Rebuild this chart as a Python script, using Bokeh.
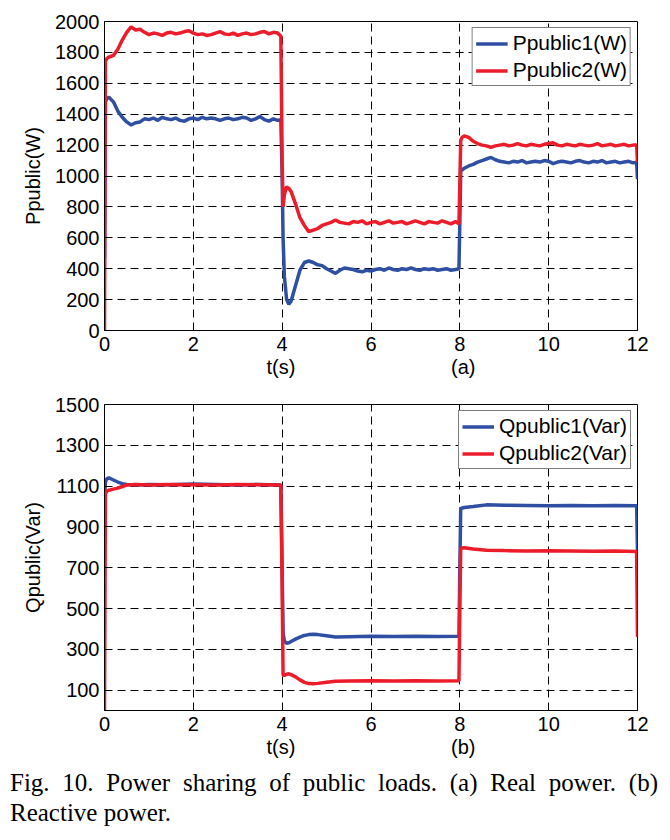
from bokeh.plotting import figure
from bokeh.models import Range1d, FixedTicker, Div
from bokeh.layouts import column
from bokeh.embed import file_html
from bokeh.resources import INLINE

# ---------------- data: (a) real power ----------------
t_a = [0.00, 0.02, 0.05, 0.1, 0.2, 0.3, 0.4, 0.5, 0.6, 0.7, 0.8, 0.9,
       1.0, 1.1, 1.2, 1.3, 1.4, 1.5, 1.6, 1.7, 1.8, 1.9,
       2.0, 2.1, 2.2, 2.3, 2.4, 2.5, 2.6, 2.7, 2.8, 2.9,
       3.0, 3.1, 3.2, 3.3, 3.4, 3.5, 3.6, 3.7, 3.8, 3.9, 3.97,
       4.00, 4.02, 4.05, 4.1, 4.15, 4.2, 4.3, 4.4, 4.5, 4.6, 4.7, 4.8, 4.9,
       5.0, 5.1, 5.2, 5.3, 5.4, 5.5, 5.6, 5.7, 5.8, 5.9,
       6.0, 6.1, 6.2, 6.3, 6.4, 6.5, 6.6, 6.7, 6.8, 6.9,
       7.0, 7.1, 7.2, 7.3, 7.4, 7.5, 7.6, 7.7, 7.8, 7.9, 7.98,
       8.00, 8.02, 8.05, 8.1, 8.2, 8.3, 8.4, 8.5, 8.6, 8.7, 8.8, 8.9,
       9.0, 9.1, 9.2, 9.3, 9.4, 9.5, 9.6, 9.7, 9.8, 9.9,
       10.0, 10.1, 10.2, 10.3, 10.4, 10.5, 10.6, 10.7, 10.8, 10.9,
       11.0, 11.1, 11.2, 11.3, 11.4, 11.5, 11.6, 11.7, 11.8, 11.9, 11.98, 12.0]
p_public1 = [470, 1480, 1500, 1510, 1480, 1420, 1380, 1350, 1330, 1345, 1350, 1370,
             1365, 1375, 1360, 1380, 1370, 1365, 1375, 1360, 1355, 1370,
             1375, 1365, 1380, 1370, 1375, 1370, 1360, 1370, 1375, 1365,
             1370, 1380, 1375, 1360, 1370, 1385, 1365, 1355, 1370, 1360, 1365,
             1000, 600, 350, 200, 170, 190, 290, 390, 440, 450, 440, 425, 420,
             400, 385, 370, 390, 405, 400, 395, 385, 380, 390,
             385, 395, 400, 390, 405, 395, 390, 400, 395, 405,
             395, 390, 400, 395, 400, 390, 395, 400, 390, 395, 400,
             700, 1030, 1040, 1050, 1065, 1075, 1090, 1100, 1110, 1120, 1105, 1095,
             1090, 1085, 1095, 1090, 1100, 1085, 1090, 1095, 1090, 1100,
             1095, 1080, 1090, 1095, 1090, 1085, 1095, 1100, 1090, 1085,
             1095, 1090, 1100, 1085, 1090, 1095, 1085, 1090, 1095, 1085, 1090, 980]
p_public2 = [0, 1740, 1760, 1770, 1780, 1820, 1880, 1930, 1965, 1945, 1950, 1930,
             1915, 1925, 1920, 1910, 1925, 1930, 1920, 1925, 1935, 1940,
             1925, 1915, 1920, 1910, 1915, 1925, 1935, 1920, 1915, 1925,
             1910, 1920, 1925, 1915, 1920, 1930, 1935, 1920, 1930, 1925, 1905,
             1100, 800, 880, 930, 920, 900, 820, 730, 680, 640, 650, 660, 680,
             690, 700, 715, 700, 695, 690, 705, 700, 710, 690,
             700, 705, 690, 700, 710, 695, 700, 705, 690, 700,
             710, 700, 690, 705, 700, 695, 710, 700, 690, 705, 690,
             950, 1230, 1250, 1260, 1250, 1225, 1210, 1200, 1195, 1185, 1195, 1200,
             1205, 1195, 1200, 1210, 1200, 1195, 1205, 1200, 1195, 1205,
             1210, 1215, 1200, 1195, 1205, 1200, 1195, 1205, 1200, 1195,
             1200, 1210, 1195, 1200, 1205, 1195, 1200, 1205, 1195, 1200, 1200, 1090]

# ---------------- data: (b) reactive power ----------------
t_b = [0.00, 0.02, 0.05, 0.1, 0.2, 0.3, 0.4, 0.5, 0.7, 1.0, 1.5, 2.0, 2.5, 3.0, 3.5, 3.97,
       4.00, 4.02, 4.05, 4.1, 4.15, 4.2, 4.3, 4.4, 4.5, 4.6, 4.7, 4.8, 5.0, 5.2, 5.5,
       6.0, 6.5, 7.0, 7.5, 7.98,
       8.00, 8.02, 8.1, 8.3, 8.6, 9.0, 9.5, 10.0, 10.5, 11.0, 11.5, 11.98, 12.0]
q_public1 = [1020, 1120, 1135, 1140, 1130, 1120, 1112, 1108, 1106, 1108, 1107, 1110, 1108, 1106, 1108, 1106,
             700, 380, 340, 330, 332, 338, 350, 360, 368, 372, 374, 372, 366, 360, 362,
             364, 363, 364, 363, 364,
             700, 990, 995, 1000, 1008, 1006, 1005, 1004, 1005, 1004, 1005, 1004, 780]
q_public2 = [0, 1060, 1075, 1080, 1085, 1090, 1098, 1105, 1108, 1106, 1108, 1107, 1106, 1108, 1107, 1105,
             600, 175, 172, 178, 180, 176, 165, 150, 138, 132, 131, 133, 138, 143, 145,
             146, 144, 146, 145, 146,
             500, 795, 798, 792, 786, 784, 782, 783, 782, 781, 782, 780, 360]

x_ticks = [0, 2, 4, 6, 8, 10, 12]
y_ticks_a = [0, 200, 400, 600, 800, 1000, 1200, 1400, 1600, 1800, 2000]
y_ticks_b = [100, 300, 500, 700, 900, 1100, 1300, 1500]

BLUE = "#2f4fa2"
RED = "#ec1c2a"
FONT = "Liberation Sans"
NB = "\u00a0"


def make_fig(height, b_top, b_bottom, y0, y1, yticks, ylabel, xlabel):
    p = figure(width=662, height=height, x_range=Range1d(0, 12), y_range=Range1d(y0, y1),
               output_backend="svg", toolbar_location=None,
               min_border_left=104, min_border_right=25,
               min_border_top=b_top, min_border_bottom=b_bottom)
    p.outline_line_color = "black"
    p.outline_line_width = 1
    p.background_fill_color = "white"
    p.border_fill_color = "white"
    for ax in (p.xaxis[0], p.yaxis[0]):
        ax.axis_line_color = "black"
        ax.major_tick_in = 5
        ax.major_tick_out = 0
        ax.minor_tick_line_color = None
        ax.major_tick_line_color = "black"
        ax.major_label_text_font = FONT
        ax.major_label_text_font_size = "20px"
        ax.major_label_text_color = "black"
        ax.axis_label_text_font = FONT
        ax.axis_label_text_font_size = "20px"
        ax.axis_label_text_font_style = "normal"
        ax.axis_label_text_color = "black"
    p.xaxis[0].ticker = FixedTicker(ticks=x_ticks)
    p.yaxis[0].ticker = FixedTicker(ticks=yticks)
    p.xaxis[0].major_label_standoff = 6
    p.yaxis[0].major_label_standoff = 5
    p.yaxis[0].axis_label = ylabel
    p.yaxis[0].axis_label_standoff = 8
    p.xaxis[0].axis_label = xlabel
    p.xaxis[0].axis_label_standoff = 2
    for g in (p.xgrid[0], p.ygrid[0]):
        g.grid_line_color = "black"
        g.grid_line_width = 1
        g.grid_line_dash = "8 5"
    return p


# ---------------- figure (a) ----------------
p1 = make_fig(388, 21, 58, 0, 2000, y_ticks_a, "Ppublic(W)", "t(s)" + NB * 28 + "(a)")
p1.line(t_a, p_public1, color=BLUE, line_width=3.5, legend_label="Ppublic1(W)")
p1.line(t_a, p_public2, color=RED, line_width=3.5, legend_label="Ppublic2(W)")

# ---------------- figure (b) ----------------
p2 = make_fig(372, 16, 47, 0, 1500, y_ticks_b, "Qpublic(Var)", "t(s)" + NB * 28 + "(b)")
p2.line(t_b, q_public1, color=BLUE, line_width=3.5, legend_label="Qpublic1(Var)")
p2.line(t_b, q_public2, color=RED, line_width=3.5, legend_label="Qpublic2(Var)")

for p in (p1, p2):
    lg = p.legend[0]
    lg.location = "top_right"
    lg.margin = 6
    lg.padding = 3
    lg.spacing = 3
    lg.label_height = 23
    lg.glyph_height = 23
    lg.glyph_width = 32
    lg.label_standoff = 5
    lg.label_text_font = FONT
    lg.label_text_font_size = "21px"
    lg.label_text_color = "black"
    lg.border_line_color = "black"
    lg.border_line_width = 1
    lg.background_fill_alpha = 1.0

caption = Div(
    text=('<div style="width:648px;text-align:justify;text-align-last:justify;">'
          'Fig. 10. Power sharing of public loads. (a) Real power. (b)</div>'
          '<div style="width:648px;">Reactive power.</div>'),
    width=648, height=66, margin=(8, 0, 0, 10),
    styles={"font-family": "Liberation Serif", "font-size": "25px",
            "line-height": "30px", "color": "black"})

layout = column(p1, p2, caption, spacing=0)
open("out.html", "w").write(file_html(layout, INLINE))
